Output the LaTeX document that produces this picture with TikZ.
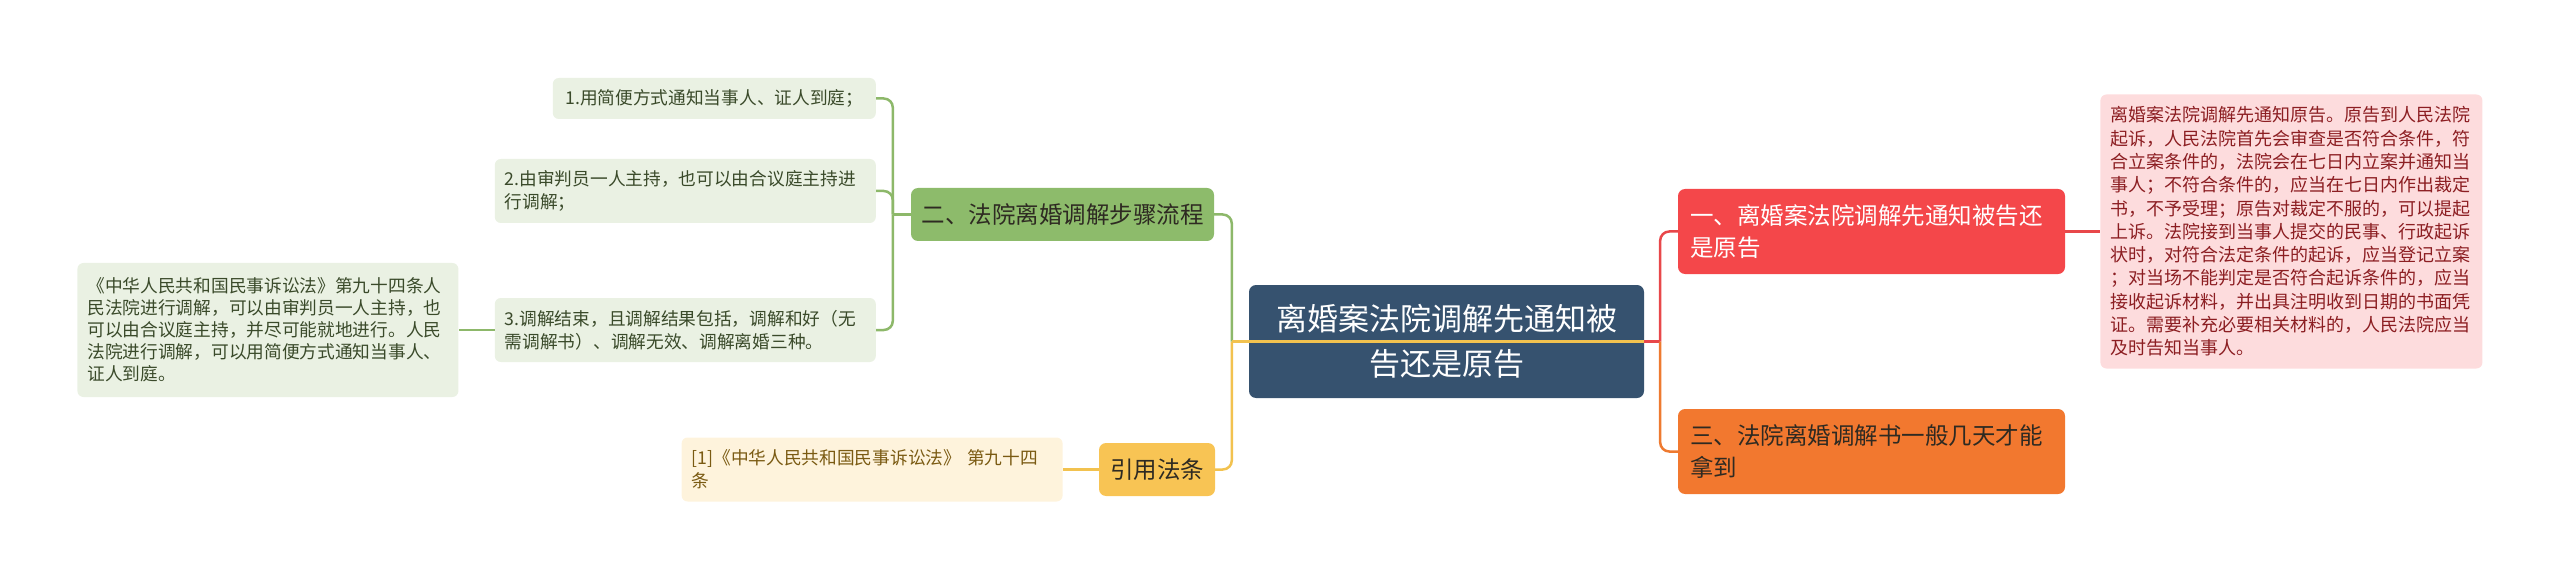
\documentclass[tikz,border=0pt]{standalone}
\usepackage{fontspec}
\setmainfont{Noto Sans CJK SC}
\usepackage{tikz}
\usetikzlibrary{positioning}

\definecolor{rootblue}{HTML}{36526F}
\definecolor{redfill}{HTML}{F4474A}
\definecolor{orangefill}{HTML}{F2782F}
\definecolor{greenfill}{HTML}{8DBB6B}
\definecolor{yellowfill}{HTML}{F8C454}
\definecolor{greennote}{HTML}{EAF1E3}
\definecolor{yellownote}{HTML}{FEF3DC}
\definecolor{rednote}{HTML}{FDDCDD}
\definecolor{greentext}{HTML}{3A4A2A}
\definecolor{yellowtext}{HTML}{7A5A12}
\definecolor{redtext}{HTML}{8C1E22}
\definecolor{darktext}{HTML}{2E2A22}
\definecolor{greenline}{HTML}{8DB86A}
\definecolor{yellowline}{HTML}{F2C24F}
\definecolor{redline}{HTML}{E8474A}
\definecolor{orangeline}{HTML}{EE7A30}

\tikzset{
  rootbox/.style={fill=rootblue, rounded corners=7pt, text=white, align=center,
    font=\fontsize{31}{45}\selectfont, minimum width=395pt, minimum height=113pt, inner sep=4pt},
  topic/.style={rounded corners=7pt, align=left, font=\fontsize{23.5}{32}\selectfont,
    minimum height=53pt, inner xsep=12pt, inner ysep=4pt},
  note/.style={rounded corners=6pt, align=left, font=\fontsize{17.7}{23}\selectfont,
    inner xsep=10pt, inner ysep=4pt},
  link/.style={line width=2.5pt, rounded corners=9pt}
}

\begin{document}
\begin{tikzpicture}[x=1pt, y=-1pt]
  \useasboundingbox (0,0) rectangle (2560,580);
  % centre
  \node[rootbox] (root) at (1446.5,341.5) {离婚案法院调解先通知被\\告还是原告};
  % right side
  \node[topic, fill=redfill, text=white, text width=363pt, minimum height=85pt] (red) at (1871.5,231.5)
    {一、离婚案法院调解先通知被告还\\是原告};
  \node[topic, fill=orangefill, text=darktext, text width=363pt, minimum height=85pt] (orange) at (1871.5,451.5)
    {三、法院离婚调解书一般几天才能\\拿到};
  \node[note, fill=rednote, text=redtext, text width=362pt, minimum height=274pt,
    font=\fontsize{18}{23.3}\selectfont, right=35pt of red] (detail)
    {离婚案法院调解先通知原告。原告到人民法院\\
     起诉，人民法院首先会审查是否符合条件，符\\
     合立案条件的，法院会在七日内立案并通知当\\
     事人；不符合条件的，应当在七日内作出裁定\\
     书，不予受理；原告对裁定不服的，可以提起\\
     上诉。法院接到当事人提交的民事、行政起诉\\
     状时，对符合法定条件的起诉，应当登记立案\\
     ；对当场不能判定是否符合起诉条件的，应当\\
     接收起诉材料，并出具注明收到日期的书面凭\\
     证。需要补充必要相关材料的，人民法院应当\\
     及时告知当事人。};
  % left side
  \node[topic, fill=greenfill, text=darktext, minimum width=303pt, inner xsep=10pt] (steps) at (1062.5,214.5)
    {二、法院离婚调解步骤流程};
  \node[topic, fill=yellowfill, text=darktext, minimum width=116pt, inner xsep=10pt] (cite) at (1157,469.5)
    {引用法条};
  \node[note, fill=greennote, text=greentext, minimum width=323pt, minimum height=41pt, anchor=east] (s1) at (876,98.5)
    {1.用简便方式通知当事人、证人到庭；};
  \node[note, fill=greennote, text=greentext, text width=361pt, minimum height=64pt, anchor=east] (s2) at (876,191)
    {2.由审判员一人主持，也可以由合议庭主持进\\行调解；};
  \node[note, fill=greennote, text=greentext, text width=361pt, minimum height=64pt, anchor=east] (s3) at (876,330)
    {3.调解结束，且调解结果包括，调解和好（无\\需调解书）、调解无效、调解离婚三种。};
  \node[note, fill=greennote, text=greentext, text width=361pt, minimum height=134pt,
    font=\fontsize{17.7}{22}\selectfont, left=36pt of s3] (law)
    {《中华人民共和国民事诉讼法》第九十四条人\\
     民法院进行调解，可以由审判员一人主持，也\\
     可以由合议庭主持，并尽可能就地进行。人民\\
     法院进行调解，可以用简便方式通知当事人、\\
     证人到庭。};
  \node[note, fill=yellownote, text=yellowtext, text width=361pt, minimum height=64pt, left=36pt of cite] (source)
    {[1]《中华人民共和国民事诉讼法》 第九十四\\条};
  % connectors
  \draw[link, yellowline] (root.west) -- ++(-17,0) coordinate (lfork);
  \draw[link, greenline] (lfork) |- (steps.east);
  \draw[link, yellowline] (lfork) |- (cite.east);
  \draw[link, yellowline] (lfork) -- (root.east);
  \draw[link, greenline] (steps.west) -- ++(-18,0) coordinate (gfork);
  \draw[link, greenline] (gfork) |- (s1.east);
  \draw[link, greenline] (gfork) |- (s2.east);
  \draw[link, greenline] (gfork) |- (s3.east);
  \draw[link, greenline] (s3.west) -- (law.east);
  \draw[link, yellowline] (cite.west) -- (source.east);
  \draw[link, redline] (root.east) -- ++(16,0) coordinate (rfork);
  \draw[link, redline] (rfork) |- (red.west);
  \draw[link, orangeline] (rfork) |- (orange.west);
  \draw[link, redline] (red.east) -- (detail.west);
\end{tikzpicture}
\end{document}
